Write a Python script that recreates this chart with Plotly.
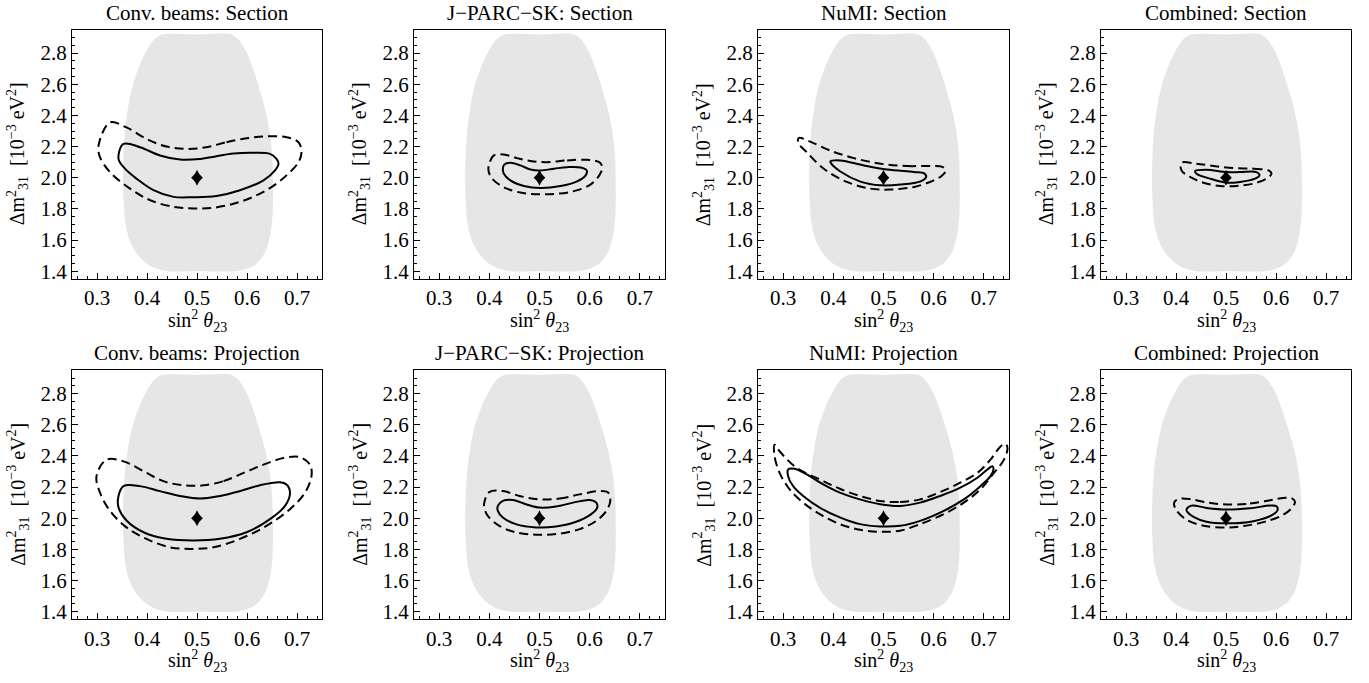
import plotly.graph_objects as go

# ---------------- data ----------------
TITLES = ["Conv. beams: Section", "J\u2212PARC\u2212SK: Section", "NuMI: Section", "Combined: Section",
          "Conv. beams: Projection", "J\u2212PARC\u2212SK: Projection", "NuMI: Projection", "Combined: Projection"]

X_TICKS = [0.3, 0.4, 0.5, 0.6, 0.7]
Y_TICKS = [1.4, 1.6, 1.8, 2.0, 2.2, 2.4, 2.6, 2.8]

BEST_FIT_X = [0.5]
BEST_FIT_Y = [2.0]

# allowed (gray) region
REGION_X = [0.50, 0.575, 0.600, 0.620, 0.636, 0.646, 0.651, 0.652, 0.651, 0.646, 0.637, 0.625, 0.612, 0.600,
            0.585, 0.570, 0.50, 0.430, 0.415, 0.400, 0.385, 0.372, 0.362, 0.356, 0.353, 0.352, 0.353, 0.357,
            0.365, 0.378, 0.395, 0.415, 0.440, 0.50]
REGION_Y = [1.40, 1.400, 1.415, 1.450, 1.520, 1.620, 1.750, 1.900, 2.100, 2.280, 2.430, 2.570, 2.700, 2.800,
            2.880, 2.920, 2.92, 2.920, 2.890, 2.820, 2.720, 2.600, 2.450, 2.300, 2.150, 2.000, 1.850, 1.700,
            1.600, 1.520, 1.460, 1.420, 1.400, 1.40]

# Conv. beams: Section
CONV_SEC_SOLID_X = [0.506, 0.539, 0.573, 0.613, 0.646, 0.659, 0.663, 0.656, 0.633, 0.586, 0.539, 0.493, 0.453,
                    0.413, 0.379, 0.356, 0.343, 0.353, 0.386, 0.426, 0.466, 0.506]
CONV_SEC_SOLID_Y = [2.121, 2.138, 2.155, 2.160, 2.153, 2.121, 2.090, 2.047, 1.983, 1.920, 1.883, 1.875, 1.877,
                    1.920, 1.994, 2.058, 2.121, 2.217, 2.196, 2.143, 2.117, 2.121]
CONV_SEC_DASH_X = [0.519, 0.559, 0.599, 0.639, 0.679, 0.703, 0.709, 0.703, 0.679, 0.639, 0.586, 0.533, 0.493,
                   0.453, 0.406, 0.366, 0.326, 0.306, 0.303, 0.326, 0.359, 0.399, 0.439, 0.479, 0.519]
CONV_SEC_DASH_Y = [2.196, 2.228, 2.253, 2.266, 2.260, 2.228, 2.164, 2.100, 2.015, 1.920, 1.845, 1.807, 1.803,
                   1.813, 1.856, 1.930, 2.036, 2.132, 2.206, 2.355, 2.323, 2.249, 2.200, 2.185, 2.196]

# J-PARC-SK: Section
JP_SEC_SOLID_X = [0.502, 0.529, 0.555, 0.582, 0.594, 0.592, 0.575, 0.542, 0.502, 0.469, 0.442, 0.429, 0.427,
                  0.430, 0.442, 0.462, 0.482, 0.502]
JP_SEC_SOLID_Y = [2.047, 2.058, 2.068, 2.066, 2.047, 2.015, 1.977, 1.947, 1.934, 1.947, 1.983, 2.026, 2.058,
                  2.085, 2.096, 2.079, 2.053, 2.047]
JP_SEC_DASH_X = [0.515, 0.555, 0.595, 0.619, 0.625, 0.619, 0.599, 0.562, 0.515, 0.475, 0.435, 0.409, 0.399,
                 0.399, 0.409, 0.429, 0.455, 0.482, 0.515]
JP_SEC_DASH_Y = [2.100, 2.111, 2.115, 2.100, 2.068, 2.015, 1.951, 1.909, 1.894, 1.898, 1.930, 1.983, 2.036,
                 2.079, 2.143, 2.149, 2.126, 2.107, 2.100]

# NuMI: Section
NUMI_SEC_SOLID_X = [0.507, 0.561, 0.581, 0.585, 0.574, 0.534, 0.494, 0.454, 0.414, 0.396, 0.394, 0.414, 0.461,
                    0.507]
NUMI_SEC_SOLID_Y = [2.053, 2.037, 2.028, 2.005, 1.977, 1.956, 1.951, 1.975, 2.040, 2.090, 2.104, 2.111, 2.079,
                    2.053]
NUMI_SEC_DASH_X = [0.494, 0.547, 0.595, 0.618, 0.624, 0.615, 0.598, 0.561, 0.514, 0.474, 0.427, 0.381, 0.347,
                   0.330, 0.331, 0.354, 0.394, 0.441, 0.494]
NUMI_SEC_DASH_Y = [2.090, 2.075, 2.075, 2.068, 2.045, 2.010, 1.980, 1.941, 1.924, 1.930, 1.973, 2.058, 2.164,
                   2.225, 2.255, 2.232, 2.174, 2.126, 2.090]

# Combined: Section
COMB_SEC_SOLID_X = [0.501, 0.528, 0.561, 0.567, 0.558, 0.528, 0.501, 0.468, 0.441, 0.438, 0.461, 0.501]
COMB_SEC_SOLID_Y = [2.036, 2.036, 2.036, 2.015, 1.994, 1.973, 1.968, 1.994, 2.026, 2.043, 2.051, 2.036]
COMB_SEC_DASH_X = [0.515, 0.555, 0.585, 0.591, 0.581, 0.555, 0.521, 0.488, 0.455, 0.428, 0.411, 0.411, 0.441,
                   0.475, 0.515]
COMB_SEC_DASH_Y = [2.062, 2.058, 2.047, 2.026, 1.994, 1.962, 1.947, 1.947, 1.968, 2.005, 2.047, 2.096, 2.090,
                   2.075, 2.062]

# Conv. beams: Projection
CONV_PRO_SOLID_X = [0.506, 0.546, 0.586, 0.626, 0.666, 0.679, 0.686, 0.676, 0.646, 0.599, 0.546, 0.493, 0.439,
                    0.393, 0.359, 0.343, 0.343, 0.353, 0.386, 0.426, 0.466, 0.506]
CONV_PRO_SOLID_Y = [2.126, 2.143, 2.174, 2.212, 2.231, 2.217, 2.164, 2.079, 1.994, 1.910, 1.868, 1.857, 1.868,
                    1.910, 1.985, 2.070, 2.143, 2.206, 2.206, 2.174, 2.143, 2.126]
CONV_PRO_DASH_X = [0.513, 0.553, 0.593, 0.633, 0.673, 0.706, 0.726, 0.729, 0.716, 0.686, 0.639, 0.586, 0.533,
                   0.493, 0.446, 0.399, 0.359, 0.326, 0.306, 0.299, 0.319, 0.353, 0.393, 0.433, 0.473, 0.513]
CONV_PRO_DASH_Y = [2.211, 2.238, 2.291, 2.344, 2.386, 2.392, 2.344, 2.270, 2.164, 2.058, 1.951, 1.867, 1.813,
                   1.803, 1.813, 1.867, 1.941, 2.047, 2.164, 2.270, 2.376, 2.365, 2.302, 2.238, 2.211, 2.211]

# J-PARC-SK: Projection
JP_PRO_SOLID_X = [0.500, 0.533, 0.567, 0.600, 0.613, 0.615, 0.603, 0.573, 0.533, 0.493, 0.453, 0.427, 0.417,
                  0.417, 0.427, 0.447, 0.473, 0.500]
JP_PRO_SOLID_Y = [2.068, 2.075, 2.100, 2.117, 2.100, 2.068, 2.026, 1.977, 1.947, 1.941, 1.962, 2.005, 2.047,
                  2.079, 2.111, 2.117, 2.090, 2.068]
JP_PRO_DASH_X = [0.500, 0.540, 0.580, 0.620, 0.637, 0.641, 0.633, 0.613, 0.580, 0.533, 0.493, 0.453, 0.420,
                 0.397, 0.390, 0.390, 0.400, 0.427, 0.460, 0.500]
JP_PRO_DASH_Y = [2.121, 2.126, 2.153, 2.174, 2.164, 2.111, 2.047, 1.983, 1.930, 1.898, 1.894, 1.909, 1.951,
                 2.015, 2.068, 2.100, 2.168, 2.174, 2.143, 2.121]

# NuMI: Projection
NUMI_PRO_SOLID_X = [0.493, 0.533, 0.573, 0.613, 0.653, 0.687, 0.707, 0.717, 0.719, 0.713, 0.693, 0.660, 0.620,
                    0.573, 0.533, 0.493, 0.453, 0.413, 0.373, 0.340, 0.320, 0.310, 0.310, 0.323, 0.347, 0.380,
                    0.413, 0.453, 0.493]
NUMI_PRO_SOLID_Y = [2.090, 2.079, 2.100, 2.143, 2.196, 2.260, 2.313, 2.334, 2.313, 2.270, 2.206, 2.121, 2.047,
                    1.983, 1.951, 1.947, 1.962, 2.005, 2.068, 2.143, 2.206, 2.270, 2.313, 2.317, 2.281, 2.217,
                    2.164, 2.121, 2.090]
NUMI_PRO_DASH_X = [0.493, 0.533, 0.573, 0.613, 0.653, 0.687, 0.713, 0.733, 0.743, 0.747, 0.740, 0.720, 0.693,
                   0.660, 0.620, 0.573, 0.533, 0.493, 0.453, 0.413, 0.373, 0.340, 0.313, 0.293, 0.283, 0.283,
                   0.293, 0.327, 0.373, 0.413, 0.453, 0.493]
NUMI_PRO_DASH_Y = [2.111, 2.104, 2.121, 2.168, 2.228, 2.291, 2.376, 2.461, 2.478, 2.451, 2.376, 2.291, 2.185,
                   2.100, 2.026, 1.962, 1.920, 1.913, 1.926, 1.962, 2.026, 2.100, 2.185, 2.291, 2.398, 2.472,
                   2.430, 2.323, 2.249, 2.189, 2.143, 2.111]

# Combined: Projection
COMB_PRO_SOLID_X = [0.501, 0.548, 0.588, 0.601, 0.603, 0.591, 0.555, 0.501, 0.461, 0.435, 0.423, 0.421, 0.431,
                    0.461, 0.501]
COMB_PRO_SOLID_Y = [2.056, 2.064, 2.081, 2.077, 2.051, 2.018, 1.981, 1.967, 1.977, 2.009, 2.039, 2.056, 2.081,
                    2.066, 2.056]
COMB_PRO_DASH_X = [0.501, 0.548, 0.588, 0.615, 0.632, 0.638, 0.630, 0.610, 0.575, 0.535, 0.501, 0.455, 0.421,
                   0.401, 0.396, 0.398, 0.408, 0.428, 0.461, 0.501]
COMB_PRO_DASH_Y = [2.088, 2.094, 2.115, 2.130, 2.128, 2.105, 2.060, 2.015, 1.975, 1.950, 1.940, 1.952, 1.990,
                   2.050, 2.090, 2.110, 2.125, 2.123, 2.102, 2.088]

SOLID_X = [CONV_SEC_SOLID_X, JP_SEC_SOLID_X, NUMI_SEC_SOLID_X, COMB_SEC_SOLID_X,
           CONV_PRO_SOLID_X, JP_PRO_SOLID_X, NUMI_PRO_SOLID_X, COMB_PRO_SOLID_X]
SOLID_Y = [CONV_SEC_SOLID_Y, JP_SEC_SOLID_Y, NUMI_SEC_SOLID_Y, COMB_SEC_SOLID_Y,
           CONV_PRO_SOLID_Y, JP_PRO_SOLID_Y, NUMI_PRO_SOLID_Y, COMB_PRO_SOLID_Y]
DASH_X = [CONV_SEC_DASH_X, JP_SEC_DASH_X, NUMI_SEC_DASH_X, COMB_SEC_DASH_X,
          CONV_PRO_DASH_X, JP_PRO_DASH_X, NUMI_PRO_DASH_X, COMB_PRO_DASH_X]
DASH_Y = [CONV_SEC_DASH_Y, JP_SEC_DASH_Y, NUMI_SEC_DASH_Y, COMB_SEC_DASH_Y,
          CONV_PRO_DASH_Y, JP_PRO_DASH_Y, NUMI_PRO_DASH_Y, COMB_PRO_DASH_Y]

# ---------------- layout ----------------
W, H = 1369, 683
COL_LEFT = [[72, 322], [414, 665], [758, 1009], [1101, 1351]]
ROW_TOP = [[30, 281], [373, 624]]
FONT = "Liberation Serif"

fig = go.Figure()
layout = dict(width=W, height=H, margin=dict(l=0, r=0, t=0, b=0), paper_bgcolor="white",
              plot_bgcolor="white", showlegend=False, annotations=[])

for i in range(8):
    r, c = divmod(i, 4)
    n = i + 1
    xa = "x" if n == 1 else f"x{n}"
    ya = "y" if n == 1 else f"y{n}"
    x0, x1 = COL_LEFT[c]
    t0, t1 = ROW_TOP[r]
    common = dict(showline=True, mirror=True, linecolor="black", linewidth=1.3, showgrid=False,
                  zeroline=False, ticks="inside", ticklen=6, tickwidth=1, tickcolor="black",
                  tickfont=dict(family=FONT, size=21, color="black"))
    layout["xaxis" if n == 1 else f"xaxis{n}"] = dict(
        domain=[x0 / W, x1 / W], range=[0.25, 0.75], tickvals=X_TICKS, tickformat=".1f",
        anchor=ya, minor=dict(ticks="inside", ticklen=3, dtick=0.02, tick0=0.3, tickcolor="black"),
        **common)
    layout["yaxis" if n == 1 else f"yaxis{n}"] = dict(
        domain=[1 - t1 / H, 1 - t0 / H], range=[1.35, 2.95], tickvals=Y_TICKS, tickformat=".1f",
        anchor=xa, minor=dict(ticks="inside", ticklen=3, dtick=0.05, tick0=1.4, tickcolor="black"),
        **common)

    fig.add_trace(go.Scatter(x=REGION_X, y=REGION_Y, mode="lines", fill="toself",
                             fillcolor="#e6e6e6", line=dict(width=0, shape="spline", smoothing=0.8),
                             xaxis=xa, yaxis=ya, hoverinfo="skip"))
    fig.add_trace(go.Scatter(x=DASH_X[i], y=DASH_Y[i], mode="lines",
                             line=dict(color="black", width=2, dash="9px,5px", shape="spline", smoothing=1),
                             xaxis=xa, yaxis=ya, cliponaxis=True))
    fig.add_trace(go.Scatter(x=SOLID_X[i], y=SOLID_Y[i], mode="lines",
                             line=dict(color="black", width=2, shape="spline", smoothing=1),
                             xaxis=xa, yaxis=ya))
    # best-fit point: a slightly tall diamond (union of two diamond symbols)
    fig.add_trace(go.Scatter(x=BEST_FIT_X, y=BEST_FIT_Y, mode="markers",
                             marker=dict(symbol="diamond", size=9, color="black", line=dict(width=0)),
                             xaxis=xa, yaxis=ya))
    fig.add_trace(go.Scatter(x=BEST_FIT_X, y=BEST_FIT_Y, mode="markers",
                             marker=dict(symbol="diamond-tall", size=11.5, color="black", line=dict(width=0)),
                             xaxis=xa, yaxis=ya))

    cx = (x0 + x1) / 2 / W
    layout["annotations"].append(dict(text=TITLES[i], x=cx, y=1 - (t0 - 17) / H, xref="paper", yref="paper",
                                      showarrow=False, xanchor="center", yanchor="middle",
                                      font=dict(family=FONT, size=21, color="black")))
    layout["annotations"].append(dict(text="sin<sup>2</sup> <i>θ</i><sub>23</sub>", x=cx,
                                      y=1 - (t1 + 42) / H, xref="paper", yref="paper", showarrow=False,
                                      xanchor="center", yanchor="middle",
                                      font=dict(family=FONT, size=20, color="black")))
    layout["annotations"].append(dict(text="Δm<sup>2</sup><sub>31</sub>  [10<sup>−3</sup> eV<sup>2</sup>]",
                                      x=(x0 - 54) / W, y=1 - (t0 + t1) / 2 / H, xref="paper", yref="paper",
                                      showarrow=False, textangle=-90, xanchor="center", yanchor="middle",
                                      font=dict(family=FONT, size=20, color="black")))

fig.update_layout(**layout)
fig.write_html("out.html")
